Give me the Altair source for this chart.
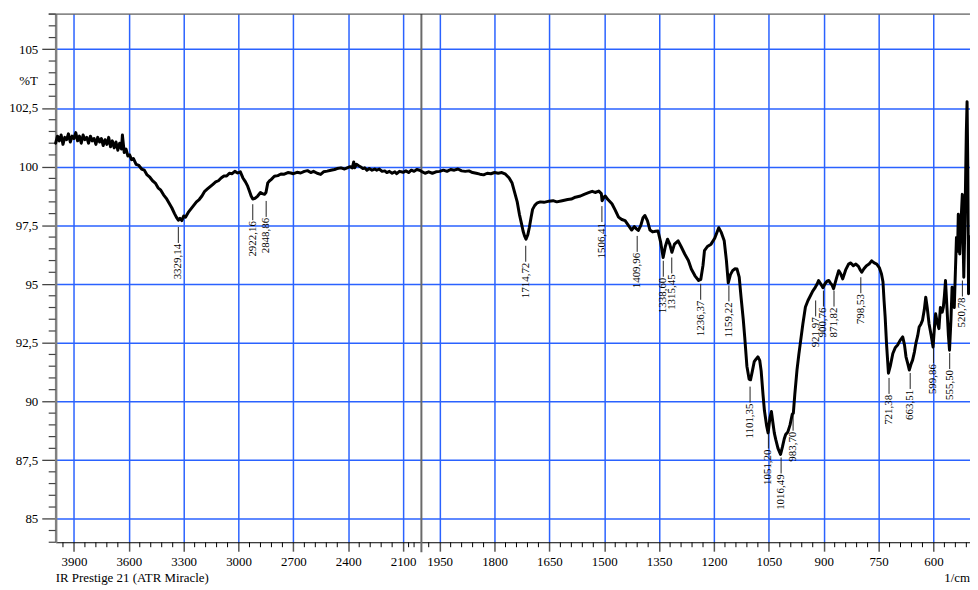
import altair as alt
import pandas as pd

# ---------------- data ----------------
wavenumber = [
    4000, 3990, 3980, 3970, 3960, 3950, 3940, 3930, 3920, 3910, 3900, 3890, 3880, 3870, 3860, 3850,
    3840, 3830, 3820, 3810, 3800, 3790, 3780, 3770, 3760, 3750, 3740, 3730, 3720, 3710, 3700, 3690,
    3680, 3670, 3660, 3650, 3640, 3635, 3625, 3615, 3605, 3595, 3585, 3575, 3560, 3545, 3530, 3515,
    3500, 3485, 3470, 3455, 3440, 3425, 3410, 3395, 3380, 3365, 3350, 3340, 3329, 3320, 3310, 3300,
    3290, 3275, 3260, 3245, 3230, 3215, 3200, 3185, 3170, 3155, 3140, 3125, 3110, 3095, 3080, 3065,
    3050, 3035, 3020, 3005, 2990, 2976, 2962, 2950, 2940, 2931, 2922, 2910, 2895, 2880, 2870, 2858,
    2850, 2840, 2830, 2822, 2804, 2785, 2768, 2750, 2730, 2714, 2700, 2680, 2660, 2640, 2623, 2605,
    2590, 2570, 2551, 2535, 2515, 2495, 2475, 2461, 2440, 2420, 2406, 2390, 2378, 2370, 2365, 2355,
    2345, 2334, 2320, 2310, 2298, 2285, 2270, 2255, 2244, 2230, 2215, 2200, 2189, 2175, 2160, 2145,
    2135, 2120, 2100, 2085, 2070, 2055, 2040, 2025, 2010, 2000, 1990, 1980, 1970, 1960, 1950, 1940,
    1930, 1920, 1910, 1900, 1890, 1880, 1870, 1860, 1850, 1840, 1830, 1820, 1810, 1800, 1790, 1780,
    1770, 1760, 1752, 1746, 1738, 1732, 1726, 1722, 1718, 1714, 1709, 1705, 1700, 1696, 1690, 1683,
    1675, 1665, 1651, 1640, 1630, 1615, 1600, 1590, 1579, 1565, 1555, 1543, 1533, 1525, 1515, 1508,
    1506, 1500, 1497, 1490, 1479, 1470, 1461, 1452, 1443, 1434, 1425, 1418, 1412, 1407, 1400, 1394,
    1389, 1382, 1375, 1368, 1360, 1353, 1346, 1339, 1333, 1327, 1321, 1315, 1308, 1298, 1290, 1280,
    1270, 1262, 1252, 1242, 1236, 1230, 1226, 1218, 1208, 1198, 1187, 1180, 1172, 1166, 1161, 1155,
    1149, 1143, 1137, 1131, 1126, 1120, 1116, 1110, 1104, 1100, 1095, 1090, 1085, 1080, 1075, 1071,
    1066, 1062, 1056, 1052, 1047, 1043, 1039, 1035, 1031, 1025, 1018, 1013, 1008, 1004, 998, 992,
    986, 983, 979, 973, 968, 964, 957, 950, 943, 936, 930, 923, 918, 914, 908, 902,
    897, 891, 886, 882, 877, 873, 866, 859, 854, 848, 840, 832, 826, 819, 812, 805,
    800, 796, 790, 783, 776, 769, 762, 755, 748, 742, 738, 735, 732, 728, 723, 718,
    711, 704, 698, 691, 684, 679, 675, 670, 666, 661, 657, 652, 648, 643, 639, 634,
    630, 625, 621, 617, 612, 606, 601, 597, 594, 590, 585, 581, 576, 573, 570, 567,
    563, 559, 556, 552, 549, 546, 543, 540, 537, 534, 532, 528, 525, 521, 519, 517,
    514, 512, 510, 508, 506, 504, 502, 500,
]
transmittance = [
    101.0, 101.3, 101.1, 101.35, 100.95, 101.25, 101.15, 101.4, 101.05, 101.3, 101.2, 101.45, 101.1, 101.3, 101.0, 101.35,
    101.15, 101.25, 101.0, 101.3, 101.1, 101.2, 100.95, 101.25, 101.05, 101.2, 100.9, 101.15, 100.95, 101.25, 100.85, 101.1,
    100.8, 101.05, 100.7, 101.0, 100.75, 101.35, 100.6, 100.75, 100.45, 100.5, 100.3, 100.35, 100.1, 100.05, 99.9, 99.85,
    99.65, 99.55, 99.4, 99.3, 99.1, 99.0, 98.8, 98.65, 98.45, 98.25, 98.0, 97.85, 97.72, 97.8, 97.7, 97.9,
    97.85, 98.05, 98.2, 98.35, 98.5, 98.6, 98.75, 98.95, 99.05, 99.15, 99.25, 99.35, 99.4, 99.52, 99.6, 99.6,
    99.72, 99.7, 99.8, 99.73, 99.78, 99.52, 99.35, 99.17, 98.95, 98.75, 98.62, 98.65, 98.75, 98.9, 98.85, 98.82,
    98.9, 99.31, 99.4, 99.45, 99.59, 99.62, 99.69, 99.68, 99.75, 99.73, 99.7, 99.76, 99.73, 99.8, 99.83, 99.75,
    99.8, 99.72, 99.67, 99.78, 99.81, 99.85, 99.88, 99.92, 99.95, 99.9, 99.95, 100.0, 99.95, 100.2, 99.95, 100.1,
    100.05, 100.0, 99.92, 99.95, 99.85, 99.92, 99.85, 99.9, 99.85, 99.9, 99.8, 99.82, 99.75, 99.8, 99.72, 99.78,
    99.7, 99.8, 99.76, 99.82, 99.75, 99.85, 99.8, 99.88, 99.85, 99.8, 99.72, 99.78, 99.72, 99.78, 99.8, 99.85,
    99.8, 99.88, 99.85, 99.9, 99.82, 99.8, 99.82, 99.75, 99.72, 99.68, 99.65, 99.72, 99.7, 99.75, 99.72, 99.75,
    99.68, 99.52, 99.3, 98.96, 98.5, 97.97, 97.55, 97.26, 97.05, 96.91, 97.1, 97.4, 97.85, 98.18, 98.35, 98.46,
    98.5, 98.48, 98.53, 98.55, 98.5, 98.55, 98.6, 98.62, 98.7, 98.75, 98.82, 98.89, 98.95, 98.9, 98.96, 98.85,
    98.55, 98.72, 98.75, 98.6, 98.42, 98.15, 97.85, 97.75, 97.7, 97.5, 97.3, 97.45, 97.35, 97.28, 97.5, 97.83,
    97.92, 97.7, 97.3, 97.22, 97.25, 97.26, 96.8, 96.13, 96.6, 96.91, 96.7, 96.35, 96.7, 96.84, 96.6, 96.28,
    96.0, 95.64, 95.35, 95.15, 95.2, 95.8, 96.42, 96.6, 96.7, 96.95, 97.4, 97.2, 96.84, 96.0, 95.05, 95.4,
    95.57, 95.65, 95.64, 95.29, 94.44, 93.5, 92.75, 91.5, 90.95, 90.92, 91.3, 91.69, 91.8, 91.9, 91.75, 91.3,
    90.3, 89.6, 88.95, 88.66, 89.3, 89.57, 89.1, 88.65, 88.37, 88.0, 87.74, 88.05, 88.4, 88.59, 88.7, 89.0,
    89.45, 89.5, 90.3, 91.34, 92.0, 92.47, 93.3, 94.02, 94.3, 94.51, 94.7, 94.86, 95.0, 95.15, 95.0, 94.84,
    95.0, 95.12, 95.15, 95.05, 94.95, 94.8, 95.2, 95.57, 95.45, 95.22, 95.6, 95.85, 95.9, 95.78, 95.85, 95.75,
    95.6, 95.5, 95.65, 95.78, 95.85, 95.99, 95.9, 95.85, 95.7, 95.43, 95.1, 94.3, 93.6, 92.4, 91.2, 91.5,
    92.04, 92.3, 92.4, 92.6, 92.75, 92.4, 91.9, 91.6, 91.34, 91.6, 91.76, 92.1, 92.47, 92.8, 93.17, 93.3,
    93.45, 93.9, 94.44, 94.0, 93.31, 92.8, 92.32, 93.2, 93.73, 93.4, 93.1, 94.0, 93.8, 94.0, 94.5, 95.15,
    94.0, 92.8, 92.18, 93.5, 94.86, 94.2, 94.0, 95.5, 96.98, 96.4, 97.97, 96.28, 97.5, 98.82, 97.0, 95.29,
    97.5, 99.5, 101.5, 102.77, 100.0, 94.59, 96.0, 97.0,
]

peak_wn = [3329.14, 2922.16, 2848.86, 1714.72, 1506.41, 1409.96, 1338.60, 1315.45, 1236.37,
           1159.22, 1101.35, 1051.20, 1016.49, 983.70, 921.97, 900.76, 871.82, 798.53,
           721.38, 663.51, 599.86, 555.50, 520.78]
peak_t = [97.68, 98.65, 98.79, 96.88, 98.57, 97.30, 96.24, 96.38, 95.26,
          95.19, 90.88, 88.92, 87.86, 89.68, 94.55, 94.97, 94.97, 95.54,
          91.25, 91.46, 92.56, 92.31, 95.40]

x_major = [3900, 3600, 3300, 3000, 2700, 2400, 2100, 1950, 1800, 1650, 1500, 1350, 1200, 1050, 900, 750, 600]
x_minor = [v for v in list(range(3960, 2099, -60)) + [2070, 2040] + list(range(1980, 509, -30)) if v not in x_major]
y_major = [85, 87.5, 90, 92.5, 95, 97.5, 100, 102.5, 105]
y_minor = [84 + 0.5 * i for i in range(46) if (84 + 0.5 * i) not in y_major]

# ---------------- chart ----------------
W, H = 921, 532
FONT = "Liberation Serif"
BLUE = "#2a62ff"

xscale = alt.Scale(domain=[4000, 2000, 500], range=[0, W * 0.4, W], nice=False, zero=False)
yscale = alt.Scale(domain=[84, 106.5], nice=False, zero=False)

spec = pd.DataFrame({"wn": wavenumber, "t": transmittance})
peaks = pd.DataFrame({
    "wn": peak_wn,
    "y1": [t - 0.25 for t in peak_t],
    "y2": [t - 0.93 for t in peak_t],
    "yt": [t - 0.97 for t in peak_t],
    "label": [f"{w:.2f}".replace(".", ",") for w in peak_wn],
})

line = alt.Chart(spec).mark_line(color="black", strokeWidth=3, strokeJoin="round", strokeCap="round").encode(
    x=alt.X("wn:Q", scale=xscale, sort=None,
            axis=alt.Axis(values=x_major, title=None, grid=True, gridColor=BLUE, gridWidth=1.5,
                          tickSize=9, tickColor="#555", tickWidth=1.5, domainColor="black", domainWidth=1,
                          labelPadding=4, labelFlush=False, format="d")),
    y=alt.Y("t:Q", scale=yscale,
            axis=alt.Axis(values=y_major, title=None, grid=True, gridColor=BLUE, gridWidth=1.5,
                          tickSize=14, tickColor="#444", tickWidth=1.3, domainColor="#808080", domainWidth=2.5,
                          labelPadding=4, labelExpr="replace(format(datum.value, '~g'), '.', ',')")),
    order=alt.Order("wn:Q", sort="descending"),
)

sep = alt.Chart(pd.DataFrame({"wn": [2000]})).mark_rule(color="#6a6a6a", strokeWidth=2).encode(
    x=alt.X("wn:Q", scale=xscale), y=alt.value(0), y2=alt.value(H + 10))

top = alt.Chart(pd.DataFrame({"a": [0]})).mark_rule(color="#333", strokeWidth=1).encode(
    x=alt.value(-7), x2=alt.value(W), y=alt.value(0))

xminor = alt.Chart(pd.DataFrame({"wn": x_minor})).mark_rule(color="black", strokeWidth=1).encode(
    x=alt.X("wn:Q", scale=xscale), y=alt.value(H), y2=alt.value(H + 5))

yminor = alt.Chart(pd.DataFrame({"t": y_minor})).mark_rule(color="#444", strokeWidth=1.2).encode(
    y=alt.Y("t:Q", scale=yscale), x=alt.value(-7), x2=alt.value(0))

plines = alt.Chart(peaks).mark_rule(color="#222", strokeWidth=1).encode(
    x=alt.X("wn:Q", scale=xscale), y=alt.Y("y1:Q", scale=yscale), y2="y2:Q")

ptext = alt.Chart(peaks).mark_text(angle=270, align="right", baseline="middle", font=FONT,
                                   fontSize=11, color="black").encode(
    x=alt.X("wn:Q", scale=xscale), y=alt.Y("yt:Q", scale=yscale), text="label:N")

ylab = alt.Chart(pd.DataFrame({"s": ["%T"]})).mark_text(align="right", baseline="middle", font=FONT,
                                                         fontSize=13, color="black").encode(
    x=alt.value(-18), y=alt.value(67), text="s:N")

inst = alt.Chart(pd.DataFrame({"s": ["IR Prestige 21 (ATR Miracle)"]})).mark_text(
    align="left", baseline="middle", font=FONT, fontSize=13, color="black").encode(
    x=alt.value(0), y=alt.value(568), text="s:N")

unit = alt.Chart(pd.DataFrame({"s": ["1/cm"]})).mark_text(
    align="right", baseline="middle", font=FONT, fontSize=13, color="black").encode(
    x=alt.value(W), y=alt.value(568), text="s:N")

chart = alt.layer(sep, top, xminor, yminor, plines, line, ptext, ylab, inst, unit).properties(
    width=W, height=H,
    autosize=alt.AutoSizeParams(type="none"),
    padding={"left": 48, "top": 4, "right": 0, "bottom": 50},
).configure_view(stroke=None).configure_axis(
    labelFont=FONT, labelFontSize=13, labelColor="black"
)

chart.save("out.html", embed_options={"renderer": "svg", "actions": False})
